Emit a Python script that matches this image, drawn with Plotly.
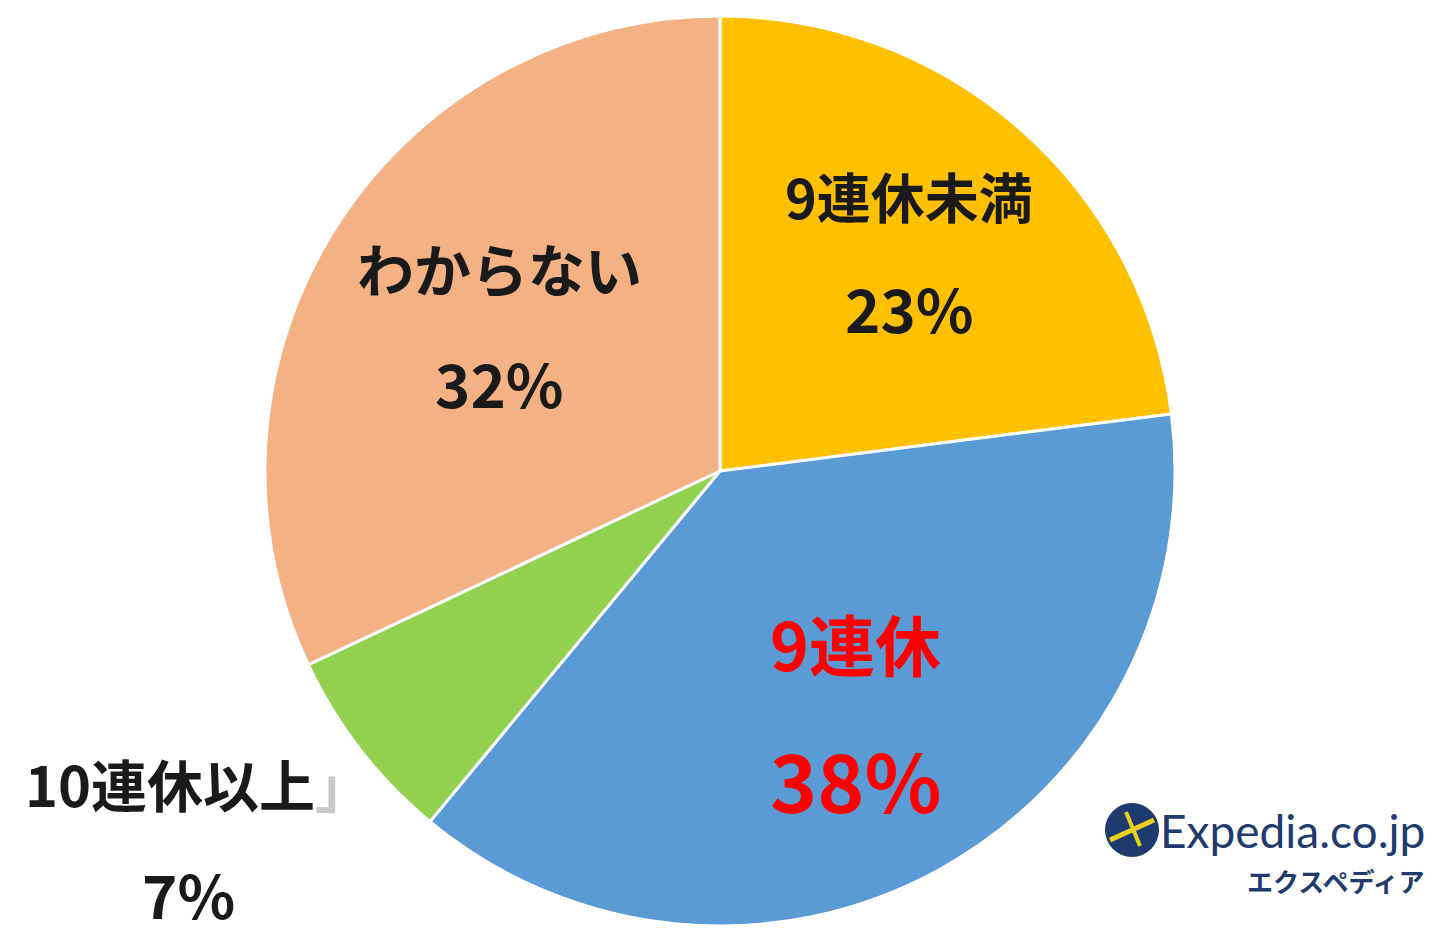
import plotly.graph_objects as go

labels = ["9連休未満", "9連休", "10連休以上", "わからない"]
values = [23, 38, 7, 32]
colors = ["#FFC000", "#5B9BD5", "#92D050", "#F4B183"]

OFF = 8  # page body margin
W, H = 1440 - OFF, 937 - OFF
cx, cy, r = 720 - OFF, 471 - OFF, 455


def px(x):
    return (x - OFF) / W


def py(y):
    return 1 - (y - OFF) / H


fig = go.Figure(go.Pie(
    labels=labels, values=values, sort=False, direction="clockwise", rotation=0,
    marker=dict(colors=colors, line=dict(color="white", width=3)),
    textinfo="none", hoverinfo="label+percent", showlegend=False,
    domain=dict(x=[(cx - r) / W, (cx + r) / W], y=[max(0, (H - cy - r) / H), min(1, (H - cy + r) / H)]),
))

font = "Noto Sans CJK JP, Noto Sans, sans-serif"
# label positions (pixels from top-left), name/percent fonts
lab_pos = [
    ((909, 195), (909, 306), 54, 60, "#1a1a1a"),
    ((855, 642), (855, 778), 66, 80, "#FF0000"),
    ((198, 782), (188, 892), 56, 60, "#1a1a1a"),
    ((499, 267), (499, 381), 57, 60, "#1a1a1a"),
]
anns = []
for lab, val, (p1, p2, s1, s2, col) in zip(labels, values, lab_pos):
    txt = lab + ("<span style='color:#c8c8c8'>」</span>" if lab == "10連休以上" else "")
    anns.append(dict(x=px(p1[0]), y=py(p1[1]), xref="paper", yref="paper", text="<b>" + txt + "</b>",
                     showarrow=False, font=dict(family=font, size=s1, color=col), xanchor="center", yanchor="middle"))
    anns.append(dict(x=px(p2[0]), y=py(p2[1]), xref="paper", yref="paper", text=f"<b>{val}%</b>",
                     showarrow=False, font=dict(family=font, size=s2, color=col), xanchor="center", yanchor="middle"))

# Expedia logo (text + circle)
anns.append(dict(x=px(1158), y=py(830), xref="paper", yref="paper", text="Expedia.co.jp", showarrow=False,
                 font=dict(family="Lato, Open Sans, sans-serif", size=46, color="#1F3A6E"), xanchor="left", yanchor="middle"))
anns.append(dict(x=px(1427), y=py(880), xref="paper", yref="paper", text="<b>エクスペディア</b>", showarrow=False,
                 font=dict(family=font, size=26, color="#1F3A6E"), xanchor="right", yanchor="middle"))

shapes = [
    dict(type="circle", xref="paper", yref="paper", x0=px(1105), x1=px(1159), y0=py(857), y1=py(803),
         fillcolor="#1F3A6E", line=dict(width=0)),
    dict(type="line", xref="paper", yref="paper", x0=px(1110), x1=px(1154), y0=py(840), y1=py(820),
         line=dict(color="#E8D21D", width=5)),
    dict(type="line", xref="paper", yref="paper", x0=px(1126), x1=px(1140), y0=py(812), y1=py(846),
         line=dict(color="#E8D21D", width=4)),
]

fig.update_layout(width=W, height=H, margin=dict(l=0, r=0, t=0, b=0), paper_bgcolor="white",
                  plot_bgcolor="white", annotations=anns, shapes=shapes)
fig.write_html("out.html")
